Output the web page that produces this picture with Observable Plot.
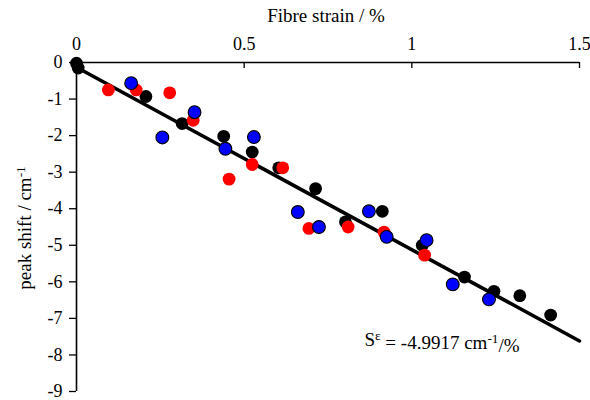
<!DOCTYPE html>
<html>
<head>
<meta charset="utf-8">
<script src="https://cdn.jsdelivr.net/npm/d3@7"></script>
<script src="https://cdn.jsdelivr.net/npm/@observablehq/plot@0.6"></script>
<style>
  body { margin: 0; background: #fff; }
  svg, svg text { font-family: "Liberation Serif", "DejaVu Serif", serif !important; }
</style>
</head>
<body>
<div id="chart"></div>
<script>
// Raman peak shift against fibre strain, three specimens plus the linear fit
const strainBlack = [0, 0.005, 0.207, 0.315, 0.439, 0.524, 0.603, 0.713, 0.802, 0.912, 1.031, 1.157, 1.245, 1.322, 1.414];
const shiftBlack  = [-0.02, -0.15, -0.93, -1.67, -2.02, -2.45, -2.88, -3.45, -4.36, -4.07, -5.0, -5.87, -6.26, -6.38, -6.91];

const strainRed = [0.095, 0.178, 0.278, 0.348, 0.455, 0.524, 0.615, 0.693, 0.81, 0.917, 1.038];
const shiftRed  = [-0.75, -0.75, -0.83, -1.58, -3.19, -2.79, -2.88, -4.54, -4.5, -4.64, -5.27];

const strainBlue = [0.163, 0.256, 0.352, 0.444, 0.529, 0.66, 0.723, 0.872, 0.925, 1.044, 1.122, 1.23];
const shiftBlue  = [-0.565, -2.05, -1.36, -2.36, -2.04, -4.09, -4.5, -4.07, -4.77, -4.86, -6.07, -6.48];

// Linear fit: shift = intercept + slope * strain
const fitSlope = -4.9917;
const fitIntercept = -0.13;
const fitRange = [0, 1.5];

const xTicks = [0, 0.5, 1, 1.5];
const yTicks = [0, -1, -2, -3, -4, -5, -6, -7, -8, -9];

const toRows = (xs, ys) => xs.map((x, i) => ({x, y: ys[i]}));
const black = toRows(strainBlack, shiftBlack);
const red = toRows(strainRed, shiftRed);
const blue = toRows(strainBlue, shiftBlue);
const fit = fitRange.map(x => ({x, y: fitIntercept + fitSlope * x}));

const W = 590, H = 400;
const mTop = 62, mBottom = 9, mLeft = 76, mRight = 11;
const R = 6.4;
const serif = "Liberation Serif";

const chart = Plot.plot({
  width: W,
  height: H,
  marginTop: mTop,
  marginBottom: mBottom,
  marginLeft: mLeft,
  marginRight: mRight,
  style: "font-family: 'Liberation Serif', serif; font-size: 18px; color: #000; background: #fff; overflow: visible;",
  x: {domain: [0, 1.5]},
  y: {domain: [-9, 0]},
  marks: [
    Plot.axisX({anchor: "top", ticks: xTicks, tickSize: 0, tickPadding: 13, tickFormat: d => String(d), label: null, fontSize: 18, fontFamily: serif}),
    Plot.tickX(xTicks, {x: d => d, stroke: "#000", strokeWidth: 1.3, insetBottom: H - mTop - mBottom - 6}),
    Plot.axisY({anchor: "left", ticks: yTicks, tickSize: 7, tickPadding: 7, strokeWidth: 1.3, tickFormat: d => String(d), label: null, fontSize: 18, fontFamily: serif}),
    Plot.ruleX([0], {stroke: "#000", strokeWidth: 1.6}),
    Plot.ruleY([0], {stroke: "#000", strokeWidth: 1.6}),
    Plot.line(fit, {x: "x", y: "y", stroke: "#000", strokeWidth: 3.6}),
    Plot.dot(black, {x: "x", y: "y", r: R, fill: "#000", stroke: "none"}),
    Plot.dot(red, {x: "x", y: "y", r: R, fill: "#ff0000", stroke: "none"}),
    Plot.dot(blue, {x: "x", y: "y", r: R, fill: "#0000ff", stroke: "#000", strokeWidth: 1.1}),
    Plot.text(["slope"], {x: 1.09, y: -7.6, text: d => d, fontSize: 19, fontFamily: serif, fill: "#000"})
  ]
});

const svg = d3.select(chart);

// Rich text with superscripts for the fit annotation
svg.selectAll("text").filter(function () { return this.textContent === "slope"; })
  .each(function () {
    const t = d3.select(this);
    t.text(null);
    t.append("tspan").text("S");
    t.append("tspan").attr("dy", "-0.45em").attr("font-size", "0.7em").text("ε");
    t.append("tspan").attr("dy", "0.45em").text(" = -4.9917 cm");
    t.append("tspan").attr("dy", "-0.45em").attr("font-size", "0.7em").text("-1");
    t.append("tspan").attr("dy", "0.45em").text("/%");
  });

// Axis titles
svg.append("text")
  .attr("x", 326).attr("y", 22)
  .attr("text-anchor", "middle")
  .attr("font-size", 19)
  .attr("font-family", serif)
  .attr("fill", "#000")
  .text("Fibre strain / %");

const yl = svg.append("text")
  .attr("transform", "translate(31,228) rotate(-90)")
  .attr("text-anchor", "middle")
  .attr("font-size", 19)
  .attr("font-family", serif)
  .attr("fill", "#000");
yl.append("tspan").text("peak shift / cm");
yl.append("tspan").attr("dy", "-0.45em").attr("font-size", "0.7em").text("-1");

document.getElementById("chart").appendChild(chart);
</script>
</body>
</html>
